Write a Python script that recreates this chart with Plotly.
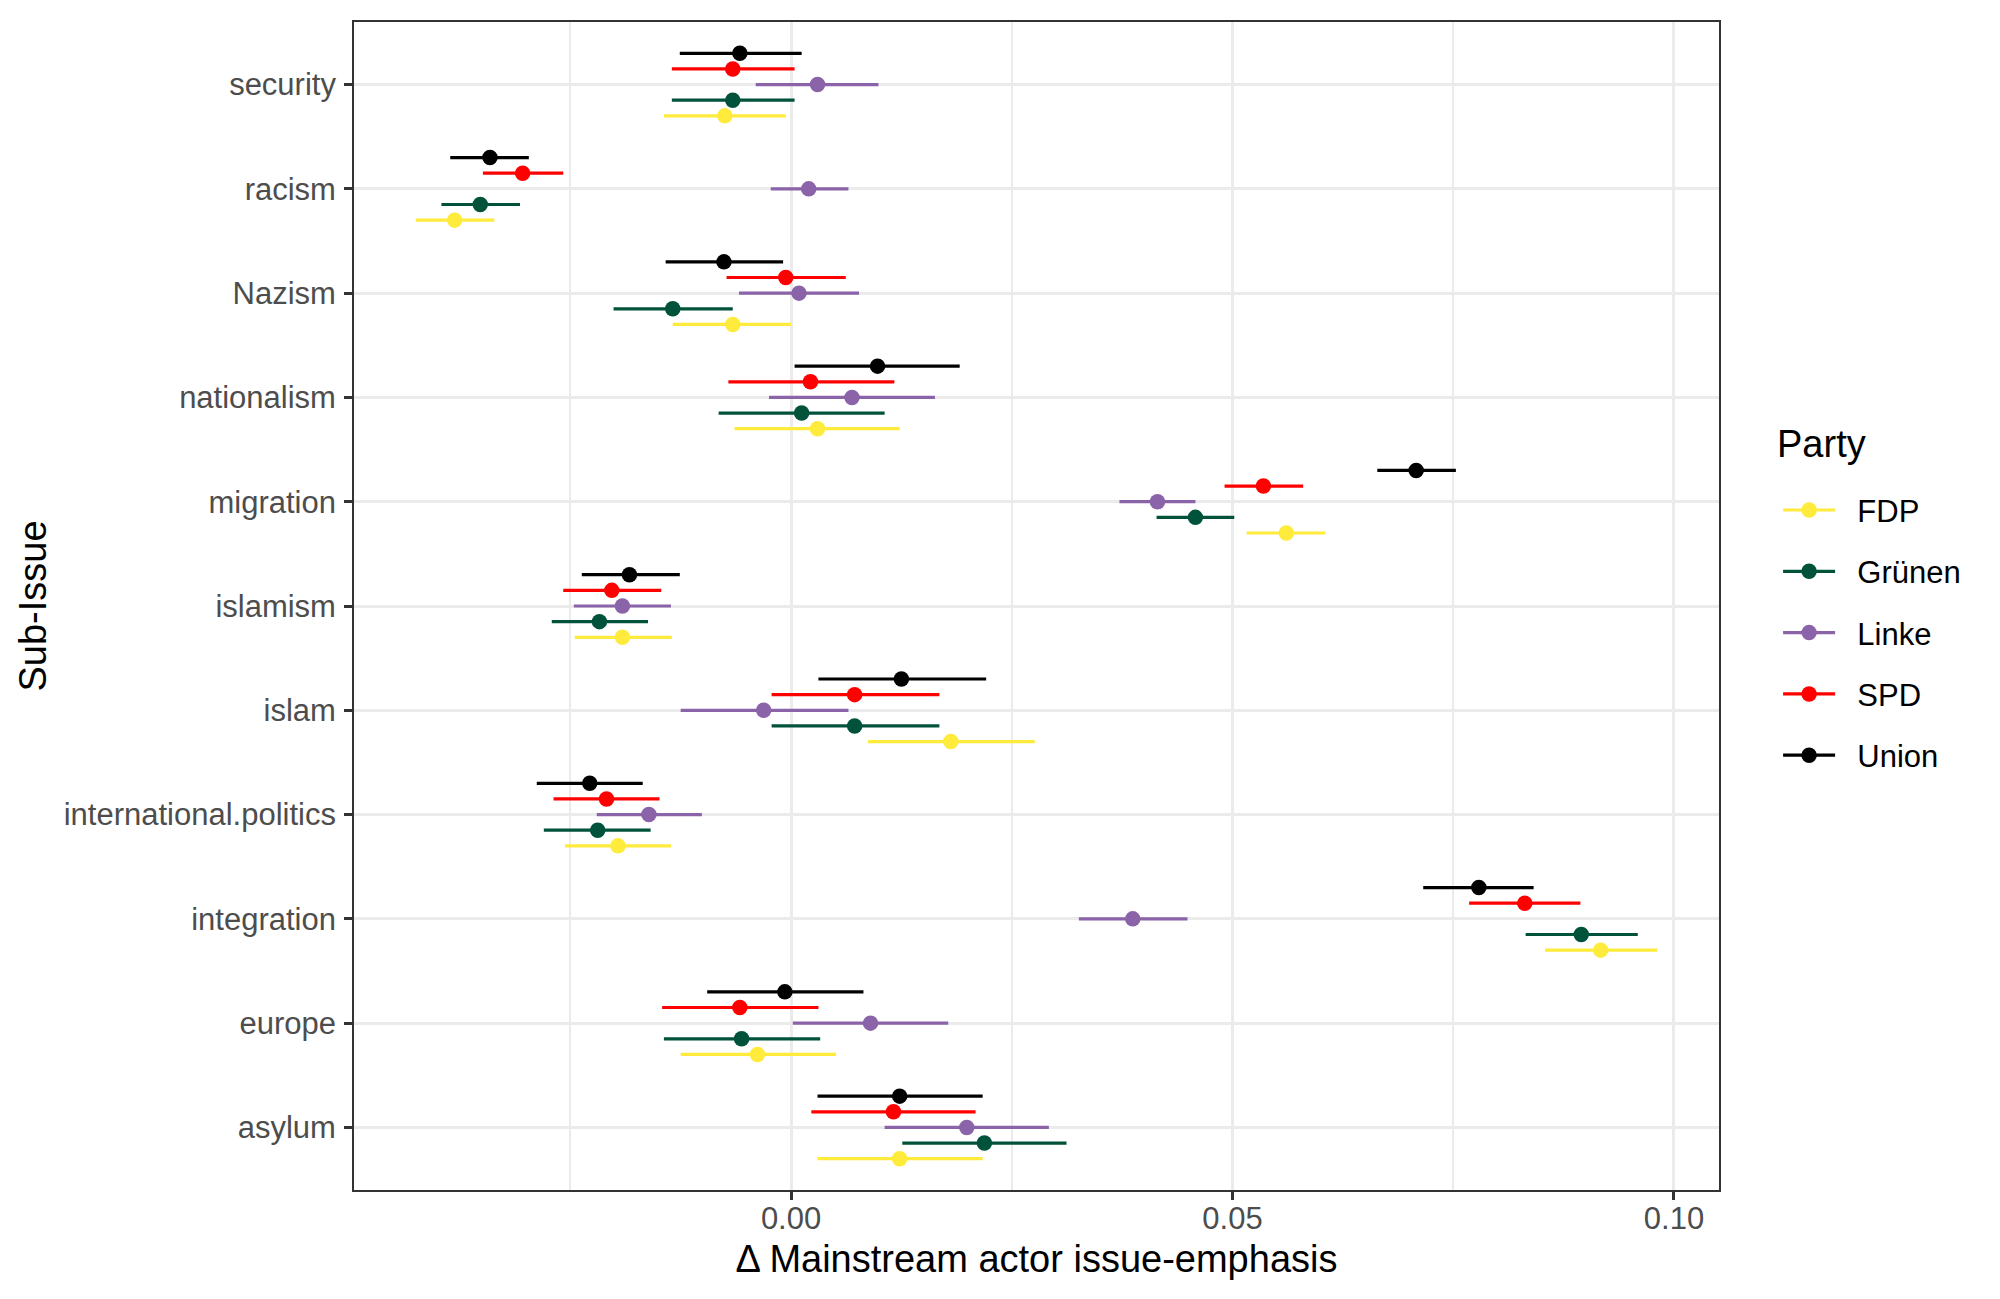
import plotly.graph_objects as go

# sub-issues, top to bottom as in the figure
issues = ["security", "racism", "Nazism", "nationalism", "migration", "islamism",
          "islam", "international.politics", "integration", "europe", "asylum"]

parties = ["FDP", "Grünen", "Linke", "SPD", "Union"]

union_est = [-0.0058, -0.0341, -0.0076, 0.0098, 0.0708, -0.0183, 0.0125, -0.0228, 0.0779, -0.0007, 0.0123]
union_lo = [-0.0126, -0.0386, -0.0142, 0.0004, 0.0664, -0.0237, 0.0031, -0.0288, 0.0716, -0.0095, 0.0030]
union_hi = [0.0012, -0.0297, -0.0009, 0.0191, 0.0753, -0.0126, 0.0221, -0.0168, 0.0841, 0.0082, 0.0217]

spd_est = [-0.0066, -0.0304, -0.0006, 0.0022, 0.0535, -0.0203, 0.0072, -0.0209, 0.0831, -0.0058, 0.0116]
spd_lo = [-0.0135, -0.0349, -0.0073, -0.0071, 0.0491, -0.0258, -0.0022, -0.0269, 0.0768, -0.0146, 0.0023]
spd_hi = [0.0004, -0.0258, 0.0062, 0.0117, 0.0580, -0.0147, 0.0168, -0.0149, 0.0894, 0.0031, 0.0209]

linke_est = [0.0030, 0.0020, 0.0009, 0.0069, 0.0415, -0.0191, -0.0031, -0.0161, 0.0387, 0.0090, 0.0199]
linke_lo = [-0.0040, -0.0023, -0.0059, -0.0025, 0.0372, -0.0246, -0.0125, -0.0220, 0.0326, 0.0002, 0.0106]
linke_hi = [0.0099, 0.0065, 0.0077, 0.0163, 0.0458, -0.0136, 0.0065, -0.0101, 0.0449, 0.0178, 0.0292]

gruenen_est = [-0.0066, -0.0352, -0.0134, 0.0012, 0.0458, -0.0217, 0.0072, -0.0219, 0.0895, -0.0056, 0.0219]
gruenen_lo = [-0.0135, -0.0396, -0.0201, -0.0082, 0.0414, -0.0271, -0.0022, -0.0280, 0.0832, -0.0144, 0.0126]
gruenen_hi = [0.0004, -0.0307, -0.0066, 0.0106, 0.0502, -0.0162, 0.0168, -0.0159, 0.0959, 0.0033, 0.0312]

fdp_est = [-0.0075, -0.0381, -0.0066, 0.0030, 0.0561, -0.0191, 0.0181, -0.0196, 0.0917, -0.0038, 0.0123]
fdp_lo = [-0.0144, -0.0425, -0.0134, -0.0064, 0.0516, -0.0245, 0.0087, -0.0256, 0.0854, -0.0125, 0.0030]
fdp_hi = [-0.0006, -0.0336, 0.0000, 0.0123, 0.0605, -0.0135, 0.0276, -0.0136, 0.0981, 0.0051, 0.0217]

data = {
    "FDP": (fdp_est, fdp_lo, fdp_hi),
    "Grünen": (gruenen_est, gruenen_lo, gruenen_hi),
    "Linke": (linke_est, linke_lo, linke_hi),
    "SPD": (spd_est, spd_lo, spd_hi),
    "Union": (union_est, union_lo, union_hi),
}
colors = {"FDP": "#FFEB3B", "Grünen": "#00533A", "Linke": "#8A63A8", "SPD": "#FF0000", "Union": "#000000"}
dodge = {"FDP": -0.3, "Grünen": -0.15, "Linke": 0.0, "SPD": 0.15, "Union": 0.3}

n = len(issues)
ypos = [n - i for i in range(n)]  # asylum = 1 at bottom

fig = go.Figure()
for p in parties:
    est, lo, hi = data[p]
    yy = [y + dodge[p] for y in ypos]
    # interval segments
    sx, sy = [], []
    for a, b, y in zip(lo, hi, yy):
        sx += [a, b, None]
        sy += [y, y, None]
    fig.add_trace(go.Scatter(x=sx, y=sy, mode="lines", line=dict(color=colors[p], width=3.2),
                             legendgroup=p, showlegend=False, hoverinfo="skip"))
    # point estimates (lines+markers so the legend shows line and dot)
    px_, py_ = [], []
    for e, y in zip(est, yy):
        px_ += [e, None]
        py_ += [y, None]
    fig.add_trace(go.Scatter(x=px_, y=py_, mode="lines+markers", name="\u00a0\u00a0" + p,
                             legendgroup=p, connectgaps=False,
                             line=dict(color=colors[p], width=3.2),
                             marker=dict(color=colors[p], size=15.5)))

fig.add_shape(type="line", xref="x", yref="paper", x0=0, x1=0, y0=0, y1=1,
              line=dict(color="#B8B8B8", width=2, dash="6px,4px"), layer="below")

# legend title drawn as annotation to get the ggplot spacing
fig.add_annotation(text="Party", xref="paper", yref="paper", x=1.041, y=0.639,
                   xanchor="left", yanchor="middle", showarrow=False,
                   font=dict(size=38, color="#000000"))

fig.update_layout(
    width=2000, height=1299,
    margin=dict(l=346, r=289, t=12, b=117),
    plot_bgcolor="white", paper_bgcolor="white",
    font=dict(family="Liberation Sans, Arial, sans-serif", size=31, color="#000000"),
    legend=dict(x=1.0433, y=0.605, xanchor="left", yanchor="top", font=dict(size=31),
                tracegroupgap=18, traceorder="grouped", itemwidth=52),
)
fig.update_xaxes(range=[-0.0495, 0.1051], tickvals=[0, 0.05, 0.10], ticktext=["0.00", "0.05", "0.10"],
                 showgrid=True, gridcolor="#EBEBEB", gridwidth=3, zeroline=False,
                 minor=dict(dtick=0.025, tick0=0, showgrid=True, gridcolor="#EBEBEB", gridwidth=1.8),
                 showline=True, linecolor="#333333", linewidth=1.7, mirror=True,
                 ticks="outside", ticklen=8, tickwidth=2.5, tickcolor="#333333",
                 tickfont=dict(size=31, color="#4D4D4D"), ticklabelstandoff=-8,
                 title=dict(text="Δ Mainstream actor issue-emphasis", font=dict(size=38), standoff=10))
fig.update_yaxes(range=[0.4, n + 0.6], tickvals=ypos, ticktext=issues,
                 showgrid=True, gridcolor="#EBEBEB", gridwidth=3, zeroline=False,
                 showline=True, linecolor="#333333", linewidth=1.7, mirror=True,
                 ticks="outside", ticklen=8, tickwidth=2.5, tickcolor="#333333",
                 tickfont=dict(size=31, color="#4D4D4D"), ticklabelstandoff=2,
                 title=dict(text="Sub-Issue", font=dict(size=38), standoff=5))

fig.write_html("out.html")
